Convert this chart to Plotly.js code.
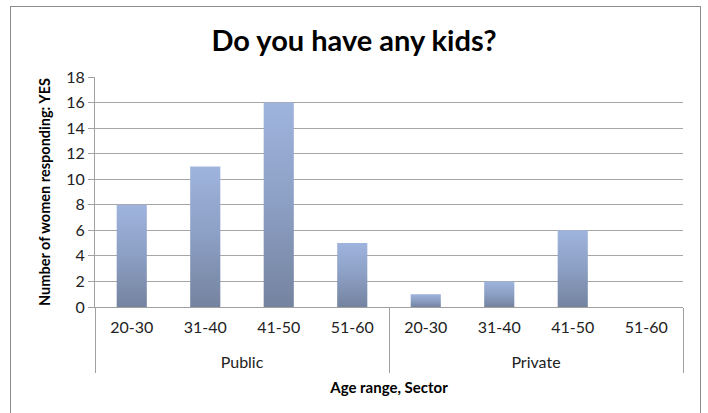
<!DOCTYPE html>
<html>
<head>
<meta charset="utf-8">
<script src="https://cdn.plot.ly/plotly-3.0.1.min.js"></script>
<style>
  html, body { margin: 0; padding: 0; background: #ffffff; }
  #wrap { position: relative; width: 708px; height: 413px; overflow: hidden; }
  #chart { width: 708px; height: 413px; }
  #frame { position: absolute; left: 10px; top: 6px; width: 689px; height: 440px;
           border: 1px solid #8c8c8c; pointer-events: none; }
</style>
</head>
<body>
<svg width="0" height="0" style="position:absolute">
  <defs>
    <linearGradient id="barGrad" x1="0" y1="0" x2="0" y2="1">
      <stop offset="0" stop-color="#9fb4dd"/>
      <stop offset="0.5" stop-color="#8c9fc4"/>
      <stop offset="1" stop-color="#74839f"/>
    </linearGradient>
  </defs>
</svg>
<div id="wrap">
  <div id="chart"></div>
  <div id="frame"></div>
</div>
<script>
const sectors = ["Public", "Public", "Public", "Public", "Private", "Private", "Private", "Private"];
const ageRanges = ["20-30", "31-40", "41-50", "51-60", "20-30", "31-40", "41-50", "51-60"];
const yesCounts = [8, 11, 16, 5, 1, 2, 6, 0];
const yTicks = [0, 2, 4, 6, 8, 10, 12, 14, 16, 18];

const FONT = "Lato, 'Open Sans', sans-serif";

const trace = {
  type: "bar",
  x: [sectors, ageRanges],
  y: yesCounts,
  marker: { color: "#8c9fc4", line: { width: 0 } },
  hoverinfo: "x+y"
};

const layout = {
  width: 708,
  height: 413,
  margin: { l: 95, r: 25, t: 77, b: 106 },
  paper_bgcolor: "#ffffff",
  plot_bgcolor: "#ffffff",
  showlegend: false,
  bargap: 0.59,
  font: { family: FONT, color: "#222222", size: 16 },
  title: {
    text: "<b>Do you have any kids?</b>",
    font: { family: FONT, size: 29, color: "#000000" },
    x: 0.5, xanchor: "center",
    y: 0.9, yref: "container", yanchor: "middle"
  },
  xaxis: {
    type: "multicategory",
    showline: true,
    linecolor: "#a0a0a0",
    linewidth: 1,
    ticks: "",
    ticklabelstandoff: 6,
    showdividers: true,
    dividercolor: "#a0a0a0",
    dividerwidth: 1,
    tickfont: { family: FONT, size: 16, color: "#222222" },
    title: {
      text: "<b>Age range, Sector</b>",
      font: { family: FONT, size: 15, color: "#000000" },
      standoff: 32
    }
  },
  yaxis: {
    range: [0, 18],
    tickvals: yTicks,
    showgrid: true,
    gridcolor: "#a6a6a6",
    gridwidth: 1,
    showline: true,
    linecolor: "#a0a0a0",
    ticks: "outside",
    ticklen: 6,
    tickcolor: "#a0a0a0",
    zeroline: false,
    tickfont: { family: FONT, size: 16, color: "#222222" },
    title: {
      text: "<b>Number of women responding: YES</b>",
      font: { family: FONT, size: 14.5, color: "#000000" },
      standoff: 12
    }
  }
};

function polish() {
  document.querySelectorAll("#chart .trace.bars .point path").forEach(function (p) {
    p.style.fill = "url(#barGrad)";
  });
  // push the sector (group) labels a little further below the age-range labels
  document.querySelectorAll('#chart .xaxislayer-above g[class*="tick2"]').forEach(function (g) {
    g.setAttribute("transform", "translate(0,20)");
  });
  // lengthen the group dividers to reach below the sector labels
  document.querySelectorAll('#chart path[class*="divider"]').forEach(function (p) {
    const d = p.getAttribute("d");
    if (d && /v[-\d.]+/.test(d)) {
      p.setAttribute("d", d.replace(/v([-\d.]+)/, "v65"));
    }
  });
}

Plotly.newPlot("chart", [trace], layout, { displayModeBar: false, staticPlot: true })
  .then(function (gd) {
    polish();
    gd.on("plotly_afterplot", polish);
  });
</script>
</body>
</html>
